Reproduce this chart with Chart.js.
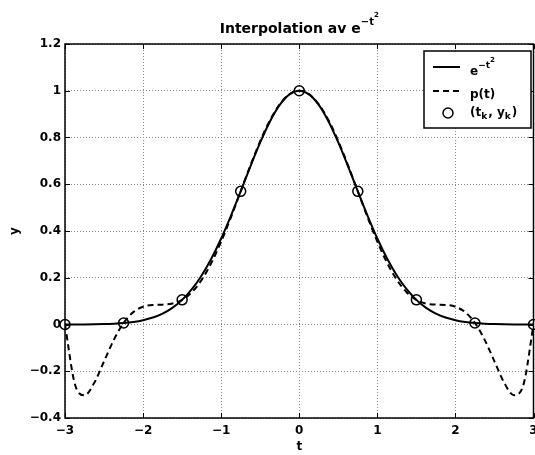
<!DOCTYPE html>
<html>
<head>
<meta charset="utf-8">
<script src="https://cdn.jsdelivr.net/npm/chart.js@4.4.0/dist/chart.umd.min.js"></script>
<style>
html, body { margin: 0; padding: 0; overflow: hidden; background: #fff; }
#wrap { width: 540px; height: 455px; }
</style>
</head>
<body>
<div id="wrap"><canvas id="interpChart" width="540" height="455"></canvas></div>
<script>
// sample points t (step 0.125)
const tGrid = [-3, -2.875, -2.75, -2.625, -2.5, -2.375, -2.25, -2.125, -2, -1.875, -1.75, -1.625,
  -1.5, -1.375, -1.25, -1.125, -1, -0.875, -0.75, -0.625, -0.5, -0.375, -0.25, -0.125, 0,
  0.125, 0.25, 0.375, 0.5, 0.625, 0.75, 0.875, 1, 1.125, 1.25, 1.375, 1.5, 1.625, 1.75, 1.875,
  2, 2.125, 2.25, 2.375, 2.5, 2.625, 2.75, 2.875, 3];

// e^{-t^2}
const expValues = [0.0001, 0.0003, 0.0005, 0.0010, 0.0019, 0.0036, 0.0063, 0.0109, 0.0183, 0.0297, 0.0468, 0.0713,
  0.1054, 0.1510, 0.2096, 0.2821, 0.3679, 0.4650, 0.5698, 0.6766, 0.7788, 0.8688, 0.9394, 0.9845, 1,
  0.9845, 0.9394, 0.8688, 0.7788, 0.6766, 0.5698, 0.4650, 0.3679, 0.2821, 0.2096, 0.1510, 0.1054, 0.0713, 0.0468, 0.0297,
  0.0183, 0.0109, 0.0063, 0.0036, 0.0019, 0.0010, 0.0005, 0.0003, 0.0001];

// p(t)
const polyValues = [0.0001, -0.2530, -0.3030, -0.2495, -0.1576, -0.0658, 0.0063, 0.0529, 0.0761, 0.0837, 0.0850, 0.0896,
  0.1054, 0.1382, 0.1910, 0.2640, 0.3547, 0.4587, 0.5698, 0.6808, 0.7845, 0.8736, 0.9422, 0.9853, 1,
  0.9853, 0.9422, 0.8736, 0.7845, 0.6808, 0.5698, 0.4587, 0.3547, 0.2640, 0.1910, 0.1382, 0.1054, 0.0896, 0.0850, 0.0837,
  0.0761, 0.0529, 0.0063, -0.0658, -0.1576, -0.2495, -0.3030, -0.2530, 0.0001];

// interpolation nodes (t_k, y_k)
const tNodes = [-3, -2.25, -1.5, -0.75, 0, 0.75, 1.5, 2.25, 3];
const yNodes = [0.0001, 0.0063, 0.1054, 0.5698, 1, 0.5698, 0.1054, 0.0063, 0.0001];

const xTicks = [-3, -2, -1, 0, 1, 2, 3];
const yTicks = [-0.4, -0.2, 0, 0.2, 0.4, 0.6, 0.8, 1, 1.2];

const FONT = '"DejaVu Sans", sans-serif';
const fmt = v => String(v).replace('-', '\u2212');
const pts = (xs, ys) => xs.map((x, i) => ({x: x, y: ys[i]}));

// draws text pieces with raised/lowered parts, returns end x
function drawRich(ctx, parts, x, y) {
  parts.forEach(p => {
    ctx.font = 'bold ' + p.size + 'px ' + FONT;
    ctx.fillText(p.text, x, y - (p.rise || 0));
    x += ctx.measureText(p.text).width + (p.gap || 0);
  });
  return x;
}
function richWidth(ctx, parts) {
  let w = 0;
  parts.forEach(p => {
    ctx.font = 'bold ' + p.size + 'px ' + FONT;
    w += ctx.measureText(p.text).width + (p.gap || 0);
  });
  return w;
}

const framePlugin = {
  id: 'frame',
  afterDraw(chart) {
    const {ctx, chartArea: a, scales: {x, y}} = chart;
    ctx.save();
    ctx.strokeStyle = '#000';
    ctx.lineWidth = 1.5;
    ctx.setLineDash([]);
    ctx.strokeRect(a.left, a.top, a.right - a.left, a.bottom - a.top);

    // inward tick marks
    ctx.lineWidth = 1;
    ctx.beginPath();
    x.ticks.forEach(t => {
      const px = Math.round(x.getPixelForValue(t.value)) + 0.5;
      ctx.moveTo(px, a.bottom); ctx.lineTo(px, a.bottom - 5);
      ctx.moveTo(px, a.top); ctx.lineTo(px, a.top + 5);
    });
    y.ticks.forEach(t => {
      const py = Math.round(y.getPixelForValue(t.value)) + 0.5;
      ctx.moveTo(a.left, py); ctx.lineTo(a.left + 5, py);
      ctx.moveTo(a.right, py); ctx.lineTo(a.right - 5, py);
    });
    ctx.stroke();

    // title
    ctx.fillStyle = '#000';
    ctx.textBaseline = 'alphabetic';
    ctx.textAlign = 'left';
    const title = [
      {text: 'Interpolation av e', size: 14},
      {text: '\u2212t', size: 10, rise: 8},
      {text: '2', size: 7, rise: 16}
    ];
    const tw = richWidth(ctx, title);
    drawRich(ctx, title, (a.left + a.right) / 2 - tw / 2, 33);

    // legend box
    const bx = 424, by = 51, bw = 107, bh = 77;
    ctx.fillStyle = '#fff';
    ctx.fillRect(bx, by, bw, bh);
    ctx.strokeStyle = '#000';
    ctx.lineWidth = 1.5;
    ctx.strokeRect(bx, by, bw, bh);

    ctx.lineWidth = 2;
    ctx.beginPath(); ctx.moveTo(433, 67); ctx.lineTo(460, 67); ctx.stroke();
    ctx.setLineDash([6, 4]);
    ctx.beginPath(); ctx.moveTo(433, 91); ctx.lineTo(462, 91); ctx.stroke();
    ctx.setLineDash([]);
    ctx.lineWidth = 1.5;
    ctx.beginPath(); ctx.arc(448, 113, 5, 0, Math.PI * 2); ctx.stroke();

    ctx.fillStyle = '#000';
    drawRich(ctx, [
      {text: 'e', size: 12},
      {text: '\u2212t', size: 9, rise: 7},
      {text: '2', size: 7, rise: 13}
    ], 470, 75);
    drawRich(ctx, [{text: 'p(t)', size: 12}], 470, 98);
    drawRich(ctx, [
      {text: '(t', size: 12},
      {text: 'k', size: 9, rise: -3, gap: 1},
      {text: ', y', size: 12},
      {text: 'k', size: 9, rise: -3, gap: 1},
      {text: ')', size: 12}
    ], 470, 116);
    ctx.restore();
  }
};

const lineFont = {family: FONT, size: 12, weight: 'bold'};

new Chart(document.getElementById('interpChart'), {
  type: 'line',
  data: {
    datasets: [
      {
        label: 'nodes',
        data: pts(tNodes, yNodes),
        showLine: false,
        pointStyle: 'circle',
        pointRadius: 5,
        pointBorderWidth: 1.5,
        pointBorderColor: '#000',
        pointBackgroundColor: 'rgba(0,0,0,0)',
        borderColor: '#000',
        clip: false
      },
      {
        label: 'exp',
        data: pts(tGrid, expValues),
        borderColor: '#000',
        borderWidth: 2,
        pointRadius: 0,
        cubicInterpolationMode: 'monotone',
        fill: false
      },
      {
        label: 'p',
        data: pts(tGrid, polyValues),
        borderColor: '#000',
        borderWidth: 2,
        borderDash: [6, 4],
        pointRadius: 0,
        cubicInterpolationMode: 'monotone',
        fill: false
      }
    ]
  },
  options: {
    responsive: false,
    animation: false,
    layout: {padding: {left: 0, right: 3, top: 44, bottom: 0}},
    plugins: {legend: {display: false}, title: {display: false}, tooltip: {enabled: false}},
    scales: {
      x: {
        type: 'linear',
        min: -3,
        max: 3,
        afterBuildTicks: s => { s.ticks = xTicks.map(v => ({value: v})); },
        afterFit: s => { s.height = 37; s.paddingLeft = 0; s.paddingRight = 0; },
        ticks: {font: lineFont, color: '#000', padding: 6, maxRotation: 0, autoSkip: false, callback: v => fmt(v)},
        grid: {color: '#8a8a8a', lineWidth: 1, drawTicks: false},
        border: {display: false, dash: [1, 2]},
        title: {display: true, text: 't', font: lineFont, color: '#000', padding: {top: 0, bottom: 1}}
      },
      y: {
        type: 'linear',
        min: -0.4,
        max: 1.2,
        afterBuildTicks: s => { s.ticks = yTicks.map(v => ({value: v})); },
        afterFit: s => { s.width = 65; s.paddingTop = 0; s.paddingBottom = 0; },
        ticks: {font: lineFont, color: '#000', padding: 4, autoSkip: false, callback: v => fmt(v)},
        grid: {color: '#8a8a8a', lineWidth: 1, drawTicks: false},
        border: {display: false, dash: [1, 2]},
        title: {display: true, text: 'y', font: lineFont, color: '#000', padding: {top: 8, bottom: 0}}
      }
    }
  },
  plugins: [framePlugin]
});
</script>
</body>
</html>
